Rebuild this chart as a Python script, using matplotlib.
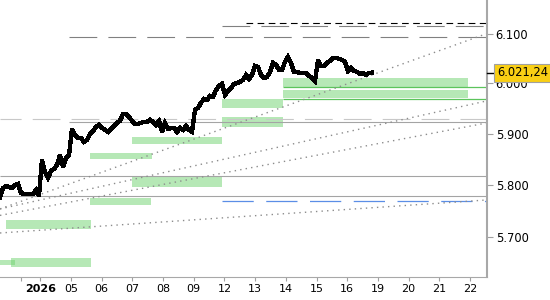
import matplotlib
matplotlib.use('Agg')
import matplotlib.pyplot as plt
import matplotlib.transforms as mtransforms
from matplotlib.ticker import FixedLocator, NullLocator, FuncFormatter
import numpy as np

# eje x en dias de negociacion: 0 = inicio de la sesion del 2 ene 2026
# (el 31 dic fue sesion corta)
day_ticks = [-0.62, 0, 1, 2, 3, 4, 5, 6, 7, 8, 9, 10, 11, 12, 13, 14]
day_labels = ['', '2026', '05', '06', '07', '08', '09', '12', '13', '14',
              '15', '16', '19', '20', '21', '22']
x_range = (-1.313, 14.555)

price_ticks = [5700, 5800, 5900, 6000, 6100]
y_range = (5625.2, 6168.4)

# cotizacion intradia (muestras regulares entre la primera y la ultima)
t_first, t_last = -1.313, 10.808
prices = [
    5777.1, 5794.3, 5798.1, 5796.2, 5794.3, 5800.0, 5802.0, 5784.7, 5782.8, 5782.8,
    5782.8, 5782.8, 5790.4, 5779.0, 5848.7, 5825.4, 5813.7, 5827.3, 5831.2, 5839.0,
    5858.5, 5835.1, 5852.6, 5858.5, 5909.3, 5897.5, 5891.6, 5891.6, 5883.8, 5887.7,
    5899.4, 5905.4, 5913.3, 5917.2, 5911.3, 5907.3, 5903.4, 5909.3, 5915.3, 5921.2,
    5925.2, 5939.0, 5939.0, 5933.1, 5925.2, 5919.2, 5919.2, 5921.2, 5923.2, 5923.2,
    5927.1, 5923.2, 5917.2, 5925.2, 5903.4, 5921.2, 5909.3, 5911.3, 5911.3, 5903.4,
    5911.3, 5907.3, 5915.3, 5907.3, 5903.4, 5946.9, 5950.9, 5960.8, 5968.7, 5966.7,
    5974.7, 5972.7, 5986.5, 5994.5, 5998.4, 5976.6, 5984.6, 5990.5, 5998.4, 6000.4,
    6002.4, 6006.4, 6016.5, 6008.5, 6016.5, 6034.6, 6032.6, 6016.5, 6010.5, 6012.5,
    6022.5, 6040.6, 6036.6, 6026.6, 6026.6, 6042.7, 6052.7, 6040.6, 6022.5, 6022.5,
    6020.5, 6020.5, 6020.5, 6014.5, 6010.5, 6004.4, 6046.7, 6034.6, 6034.6, 6040.6,
    6044.7, 6050.7, 6050.7, 6048.7, 6046.7, 6042.7, 6024.6, 6030.6, 6024.6, 6022.5,
    6018.5, 6020.5, 6016.5, 6020.5, 6021.24,
]
last_price = 6021.24

# niveles horizontales: (dia de inicio, precio), llegan hasta el borde derecho
levels_black_dash = [(6.70, 6122.0)]
levels_gray_dash = [(5.92, 6115.2), (0.935, 6092.3)]
levels_light_dash = [(-1.313, 5928.9)]
levels_gray = [(0.935, 5922.4), (-1.313, 5817.5), (-1.313, 5778.3)]
levels_green = [(7.91, 5991.8), (7.91, 5968.5)]
levels_blue_dash = [(5.92, 5768.7)]

# zonas: (dia inicio, dia fin, precio bajo, precio alto)
zones = [
    (5.92, 7.91, 5951.2, 5968.5),
    (5.92, 7.91, 5913.7, 5932.8),
    (2.99, 5.92, 5880.4, 5892.9),
    (7.91, 13.94, 5993.0, 6010.3),
    (7.91, 13.94, 5969.5, 5986.4),
    (1.62, 3.64, 5850.5, 5862.2),
    (2.99, 5.92, 5796.8, 5816.1),
    (1.62, 3.61, 5762.2, 5775.6),
    (-1.118, 1.652, 5715.8, 5732.9),
    (-0.955, 1.652, 5644.5, 5661.4),
    (-1.313, -0.824, 5648.3, 5657.1),
]

# lineas de tendencia: (dia, precio) -> (dia, precio)
trend_lines = [
    ((-1.313, 5754.1), (14.555, 6100.0)),
    ((-1.313, 5754.1), (14.555, 5964.8)),
    ((-1.313, 5741.7), (14.555, 5921.2)),
    ((-1.313, 5708.2), (14.555, 5771.3)),
]

fig = plt.figure(figsize=(5.5, 3), dpi=100)
ax = fig.add_axes([0, 23 / 300, 487 / 550, 277 / 300])
ax.set_yscale('log')

for t0, t1, lo, hi in zones:
    ax.fill_between([t0, t1], lo, hi, color='#6fd36f', alpha=0.5, lw=0, zorder=1)

def draw_levels(levels, **kw):
    for t0, p in levels:
        ax.hlines(p, t0, x_range[1], zorder=2, **kw)

draw_levels(levels_light_dash, colors='#c8c8c8', lw=0.8, linestyles=(6, (25, 10)))
draw_levels(levels_gray, colors='#a4a4a4', lw=0.8)
draw_levels(levels_gray_dash, colors='#808080', lw=0.8, linestyles=(0, (25, 10)))
draw_levels(levels_black_dash, colors='black', lw=0.8, linestyles=(0, (6, 4)))
draw_levels(levels_green, colors='#5cc45c', lw=0.9)
draw_levels(levels_blue_dash, colors='#5b8ee6', lw=0.9, linestyles=(0, (25, 10)))

for (t0, p0), (t1, p1) in trend_lines:
    ax.plot([t0, t1], [p0, p1], color='#8c8c8c', lw=1.0, ls=(0, (1, 3)), zorder=2)

times = np.linspace(t_first, t_last, len(prices))
ax.plot(times, prices, color='black', lw=2.4, zorder=4, antialiased=False,
        solid_joinstyle='miter')

ax.set_xlim(*x_range)
ax.set_ylim(*y_range)

ax.set_xticks(day_ticks)
ax.set_xticklabels(day_labels)
ax.get_xticklabels()[1].set_fontweight('bold')

ax.yaxis.tick_right()
ax.yaxis.set_major_locator(FixedLocator(price_ticks))
ax.yaxis.set_minor_locator(NullLocator())
ax.yaxis.set_major_formatter(FuncFormatter(lambda v, _: f"{v:,.0f}".replace(',', '.')))

ax.tick_params(axis='x', length=3, width=0.8, color='#a0a0a0', pad=2, labelsize=8)
ax.tick_params(axis='y', length=4.3, width=0.8, color='#a0a0a0', pad=2, labelsize=8.3)

for side in ('left', 'top'):
    ax.spines[side].set_visible(False)
ax.spines['right'].set_color('#a8a8a8')
ax.spines['right'].set_linewidth(1.5)
ax.spines['bottom'].set_color('#a8a8a8')
ax.spines['bottom'].set_linewidth(0.8)

# etiqueta del ultimo precio
trans = mtransforms.blended_transform_factory(ax.transAxes, ax.transData)
ax.plot([1.0, 1.014], [last_price, last_price], color='black', lw=1,
        transform=trans, clip_on=False, zorder=5)
label = f"{last_price:,.2f}".replace(',', '#').replace('.', ',').replace('#', '.')
ax.text(1.0205, last_price, label, transform=trans, ha='left', va='center',
        fontsize=8.3, color='black', zorder=6, clip_on=False,
        bbox=dict(boxstyle='square,pad=0.22', fc='#f9cf14', ec='#a0a0a0', lw=0.8))

fig.savefig('out.png', dpi=100)
plt.close(fig)
